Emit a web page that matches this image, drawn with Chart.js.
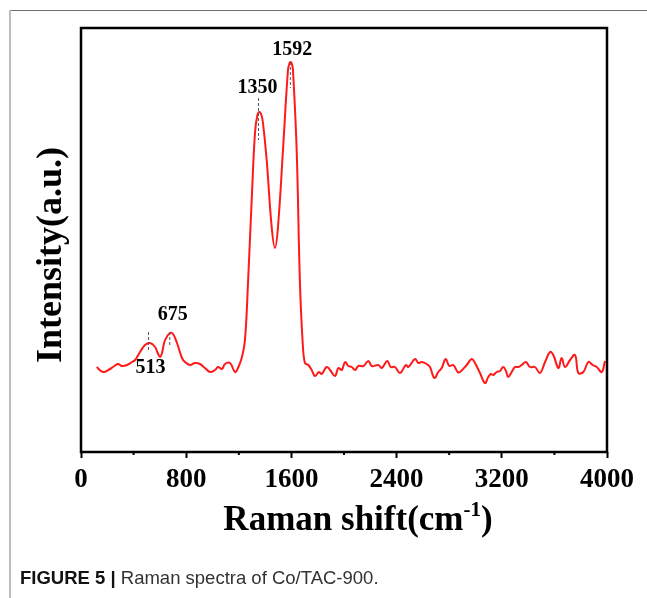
<!DOCTYPE html>
<html>
<head>
<meta charset="utf-8">
<script src="https://cdn.jsdelivr.net/npm/chart.js@4/dist/chart.umd.min.js"></script>
<style>
  html, body { margin: 0; padding: 0; background: #fff; }
  #wrap { position: relative; width: 647px; height: 598px; overflow: hidden; }
  canvas { position: absolute; left: 0; top: 0; }
  #frame-top { position: absolute; left: 10px; top: 10px; right: 0; border-top: 1.5px solid #6e6e6e; }
  #frame-left { position: absolute; left: 9px; top: 10px; bottom: 0; border-left: 2px solid #bdbdbd; }
  #caption { position: absolute; left: 20px; top: 567px; font: 18.5px "Liberation Sans", Arial, sans-serif; color: #333; white-space: nowrap; }
  #caption b { color: #111; }
</style>
</head>
<body>
<div id="wrap">
  <canvas id="chart" width="647" height="598"></canvas>
  <div id="frame-top"></div>
  <div id="frame-left"></div>
  <div id="caption"><b>FIGURE 5 |</b> Raman spectra of Co/TAC-900.</div>
</div>
<script>
  // Raman shift (cm-1) and intensity (a.u.)
  const ramanShift = [
    119, 167, 221, 243, 281, 312, 350, 388, 411, 449, 487, 525, 563, 583, 601, 616, 639, 677, 700, 730,
    768, 791, 829, 867, 905, 943, 981, 1019, 1042, 1072, 1095, 1133, 1171, 1194, 1224, 1247, 1270, 1298,
    1323, 1340, 1356, 1372, 1384, 1412, 1450, 1475, 1498, 1536, 1574, 1586, 1595, 1604, 1612, 1640, 1665,
    1686, 1703, 1729, 1754, 1779, 1810, 1830, 1868, 1894, 1932, 1957, 1983, 2008, 2033, 2059, 2084, 2109,
    2147, 2185, 2211, 2261, 2287, 2329, 2355, 2388, 2426, 2471, 2489, 2540, 2565, 2591, 2629, 2654, 2687,
    2717, 2743, 2773, 2801, 2831, 2865, 2882, 2933, 2971, 2996, 3034, 3072, 3097, 3116, 3135, 3161, 3186,
    3211, 3232, 3249, 3275, 3300, 3325, 3351, 3384, 3414, 3452, 3490, 3529, 3567, 3592, 3630, 3655, 3681,
    3719, 3757, 3782, 3820, 3858, 3891, 3922, 3960, 3985
  ];
  const intensity = [
    85, 80, 83, 85, 88, 86, 87, 90, 92, 100, 107, 109, 105, 99, 95, 99, 112, 119, 118, 109,
    94, 90, 87, 89, 88, 84, 80, 82, 85, 83, 88, 89, 80, 84, 95, 112, 169, 252,
    319, 336, 340, 337, 329, 292, 225, 204, 225, 302, 382, 389, 390, 388, 382, 302, 169,
    109, 89, 87, 82, 76, 80, 78, 85, 82, 76, 84, 82, 90, 86, 85, 82, 86,
    86, 91, 86, 87, 84, 91, 85, 85, 79, 87, 85, 93, 89, 90, 88, 85, 74,
    80, 84, 93, 86, 87, 80, 80, 87, 93, 89, 79, 69, 75, 78, 77, 80, 81,
    85, 81, 75, 80, 85, 85, 87, 90, 85, 85, 79, 90, 100, 97, 84, 94, 85,
    92, 97, 79, 80, 90, 87, 85, 80, 91
  ];
  const xTickValues = [0, 800, 1600, 2400, 3200, 4000];
  const xMinorTicks = [400, 1200, 2000, 2800, 3600];
  const peakShifts = [513, 675, 1350, 1592];
  const peakLabels = ['513', '675', '1350', '1592'];

  const serif = '"Liberation Serif", "Times New Roman", serif';

  // label/dash placement for each peak, in chart units (y) and pixels (dx)
  const peakMarks = [
    { dx: 2, labelY: 84, dash: [120, 100] },
    { dx: 3, labelY: 137, dash: [120, 105] },
    { dx: -1, labelY: 364, dash: [354, 312] },
    { dx: 2, labelY: 402, dash: [390, 364] }
  ];

  const decorPlugin = {
    id: 'decor',
    afterDraw(chart) {
      const { ctx, chartArea: area, scales } = chart;
      const x = scales.x;
      const y = scales.y;
      ctx.save();

      // frame box
      ctx.strokeStyle = '#000';
      ctx.lineWidth = 2.5;
      ctx.strokeRect(area.left, area.top, area.right - area.left, area.bottom - area.top);

      // minor ticks
      ctx.lineWidth = 2;
      xMinorTicks.forEach((v) => {
        const px = x.getPixelForValue(v);
        ctx.beginPath();
        ctx.moveTo(px, area.bottom);
        ctx.lineTo(px, area.bottom + 3);
        ctx.stroke();
      });

      // peak markers
      ctx.textAlign = 'center';
      ctx.textBaseline = 'middle';
      ctx.font = `bold 20px ${serif}`;
      peakShifts.forEach((v, i) => {
        const m = peakMarks[i];
        const px = x.getPixelForValue(v);
        ctx.strokeStyle = '#555';
        ctx.lineWidth = 1;
        ctx.setLineDash([3, 2]);
        ctx.beginPath();
        ctx.moveTo(px, y.getPixelForValue(m.dash[0]));
        ctx.lineTo(px, y.getPixelForValue(m.dash[1]));
        ctx.stroke();
        ctx.setLineDash([]);
        ctx.fillStyle = '#000';
        ctx.fillText(peakLabels[i], px + m.dx, y.getPixelForValue(m.labelY));
      });

      // x title with superscript
      ctx.textAlign = 'left';
      ctx.textBaseline = 'alphabetic';
      const main = 'Raman shift(cm';
      const sup = '-1';
      const close = ')';
      const bigFont = `bold 35px ${serif}`;
      const supFont = `bold 21px ${serif}`;
      ctx.font = bigFont;
      const wMain = ctx.measureText(main).width;
      const wClose = ctx.measureText(close).width;
      ctx.font = supFont;
      const wSup = ctx.measureText(sup).width;
      const total = wMain + wSup + wClose;
      let tx = 358 - total / 2;
      const base = 530;
      ctx.font = bigFont;
      ctx.fillText(main, tx, base);
      tx += wMain;
      ctx.font = supFont;
      ctx.fillText(sup, tx, base - 14);
      tx += wSup;
      ctx.font = bigFont;
      ctx.fillText(close, tx, base);

      // y title
      ctx.translate(52, 255);
      ctx.rotate(-Math.PI / 2);
      ctx.textAlign = 'center';
      ctx.textBaseline = 'middle';
      ctx.font = `bold 36px ${serif}`;
      ctx.fillText('Intensity(a.u.)', 0, 0);

      ctx.restore();
    }
  };

  new Chart(document.getElementById('chart'), {
    type: 'line',
    data: {
      datasets: [{
        data: ramanShift.map((v, i) => ({ x: v, y: intensity[i] })),
        borderColor: '#ff1a1a',
        borderWidth: 2,
        pointRadius: 0,
        tension: 0.4,
        fill: false
      }]
    },
    options: {
      responsive: false,
      animation: false,
      devicePixelRatio: 1,
      layout: { padding: { left: 81, right: 40, top: 28, bottom: 0 } },
      plugins: { legend: { display: false }, tooltip: { enabled: false } },
      scales: {
        x: {
          type: 'linear',
          min: 0,
          max: 4000,
          afterBuildTicks(scale) {
            scale.ticks = xTickValues.map((v) => ({ value: v }));
          },
          afterFit(scale) {
            scale.height = 146;
          },
          ticks: {
            autoSkip: false,
            maxRotation: 0,
            padding: 6,
            color: '#000',
            font: { family: serif, size: 27, weight: 'bold' },
            callback: (value) => String(value)
          },
          grid: {
            drawOnChartArea: false,
            tickLength: 6,
            tickColor: '#000',
            tickWidth: 2
          },
          border: { display: false }
        },
        y: {
          display: false,
          min: 0,
          max: 424
        }
      }
    },
    plugins: [decorPlugin]
  });
</script>
</body>
</html>
